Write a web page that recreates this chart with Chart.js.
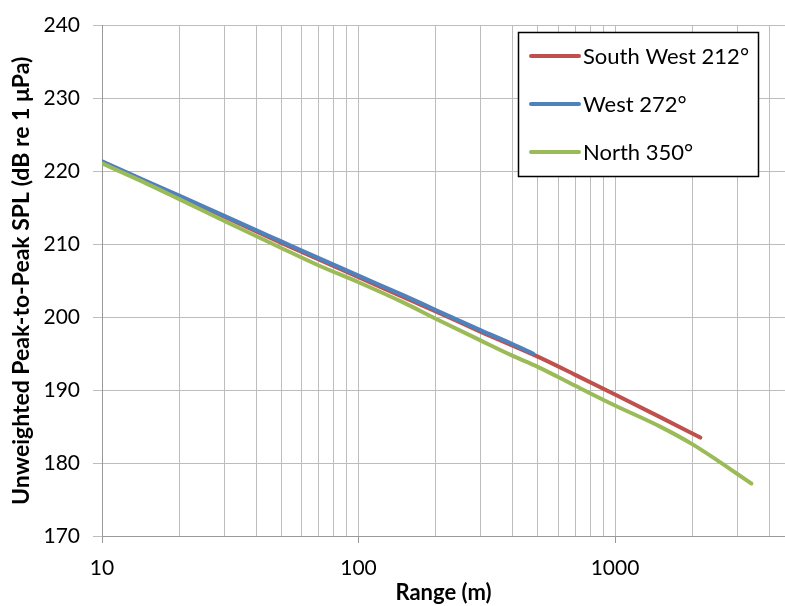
<!DOCTYPE html>
<html>
<head>
<meta charset="utf-8">
<script src="https://cdn.jsdelivr.net/npm/chart.js@4.4.1/dist/chart.umd.min.js"></script>
<style>
  html, body { margin: 0; padding: 0; background: #fff; overflow: hidden; }
  #chart { display: block; }
</style>
</head>
<body>
<canvas id="chart" width="785" height="606"></canvas>
<script>
// measured peak-to-peak levels vs range, one pair of arrays per bearing
const seriesNames = ['South West 212°', 'West 272°', 'North 350°'];
const seriesColors = ['#C0504D', '#4F81BD', '#9BBB59'];

const rangeSouthWest = [10, 20, 50, 100, 200, 300, 500, 700, 1000, 1500, 2150];
const splSouthWest = [221.3, 216.6, 210.2, 205.5, 200.8, 198.0, 194.6, 192.1, 189.4, 186.3, 183.5];

const rangeWest = [10, 15, 20, 30, 50, 70, 100, 150, 200, 300, 400, 480];
const splWest = [221.4, 218.6, 216.7, 213.9, 210.4, 208.1, 205.7, 203.0, 201.0, 198.2, 196.3, 195.0];

const rangeNorth = [10, 15, 20, 30, 50, 70, 100, 150, 200, 300, 400, 500, 700, 1000, 1500, 2000, 2500, 3000, 3400];
const splNorth = [221.1, 218.3, 216.2, 213.2, 209.5, 207.1, 204.8, 202.0, 199.8, 196.8, 194.7, 193.2, 190.6, 187.9, 185.0, 182.6, 180.4, 178.5, 177.2];

// log grid lines and the decades that get a label
const rangeGrid = [10, 20, 30, 40, 50, 60, 70, 80, 90,
                   100, 200, 300, 400, 500, 600, 700, 800, 900,
                   1000, 2000, 3000, 4000];
const rangeLabels = [10, 100, 1000];
const splTicks = [170, 180, 190, 200, 210, 220, 230, 240];

const FONT = 'Lato, "Liberation Sans", sans-serif';

const toPoints = (xs, ys) => xs.map((x, i) => ({ x: x, y: ys[i] }));

// boxed legend in the upper right of the plot
const legendBox = {
    id: 'legendBox',
    afterDraw(chart) {
        const ctx = chart.ctx;
        ctx.save();
        ctx.fillStyle = '#fff';
        ctx.fillRect(518, 32, 240, 144);
        ctx.strokeStyle = '#000';
        ctx.lineWidth = 1.5;
        ctx.strokeRect(518.5, 32.5, 240, 144);
        ctx.font = '22px ' + FONT;
        ctx.textBaseline = 'middle';
        ctx.fillStyle = '#000';
        chart.data.datasets.forEach((ds, i) => {
            const y = 56 + i * 48;
            ctx.beginPath();
            ctx.moveTo(531, y);
            ctx.lineTo(579, y);
            ctx.lineWidth = 4;
            ctx.lineCap = 'round';
            ctx.strokeStyle = ds.borderColor;
            ctx.stroke();
            ctx.fillText(ds.label, 583, y + 1);
        });
        ctx.restore();
    }
};

const makeSet = (i, xs, ys, order) => ({
    label: seriesNames[i],
    data: toPoints(xs, ys),
    borderColor: seriesColors[i],
    backgroundColor: seriesColors[i],
    borderWidth: 4,
    borderCapStyle: 'round',
    pointRadius: 0,
    cubicInterpolationMode: 'monotone',
    order: order
});

const ctx = document.getElementById('chart').getContext('2d');
new Chart(ctx, {
    type: 'line',
    data: {
        datasets: [
            makeSet(0, rangeSouthWest, splSouthWest, 3),
            makeSet(1, rangeWest, splWest, 2),
            makeSet(2, rangeNorth, splNorth, 1)
        ]
    },
    options: {
        responsive: false,
        animation: false,
        devicePixelRatio: 1,
        layout: { padding: { top: 17, right: 0, bottom: 0, left: 0 } },
        plugins: {
            legend: { display: false },
            tooltip: { enabled: false }
        },
        scales: {
            x: {
                type: 'logarithmic',
                min: 10,
                max: 4600,
                afterFit: (scale) => { scale.height = 70; },
                afterBuildTicks: (scale) => {
                    scale.ticks = rangeGrid.map(v => ({ value: v, major: rangeLabels.includes(v) }));
                },
                ticks: {
                    autoSkip: false,
                    maxRotation: 0,
                    padding: 13,
                    color: '#000',
                    font: { family: FONT, size: 21 },
                    callback: (v) => rangeLabels.includes(v) ? String(v) : ''
                },
                grid: {
                    color: '#bdbdbd',
                    lineWidth: 1,
                    tickLength: 7,
                    tickColor: (c) => (c.tick && rangeLabels.includes(c.tick.value)) ? '#999' : 'rgba(0,0,0,0)'
                },
                border: { color: '#999', width: 1 },
                title: {
                    display: true,
                    text: 'Range (m)',
                    color: '#000',
                    font: { family: FONT, size: 22, weight: 'bold' },
                    padding: { top: 3, bottom: 0 }
                }
            },
            y: {
                min: 170,
                max: 240,
                afterFit: (scale) => { scale.width = 102; },
                afterBuildTicks: (scale) => {
                    scale.ticks = splTicks.map(v => ({ value: v }));
                },
                ticks: {
                    padding: 13,
                    color: '#000',
                    font: { family: FONT, size: 21 }
                },
                grid: {
                    color: '#bdbdbd',
                    lineWidth: 1,
                    tickLength: 9,
                    tickColor: '#bdbdbd'
                },
                border: { color: '#999', width: 1 },
                title: {
                    display: true,
                    text: 'Unweighted Peak-to-Peak SPL (dB re 1 μPa)',
                    color: '#000',
                    font: { family: FONT, size: 23, weight: 'bold' },
                    padding: { top: 8, bottom: 0 }
                }
            }
        }
    },
    plugins: [legendBox]
});
</script>
</body>
</html>
